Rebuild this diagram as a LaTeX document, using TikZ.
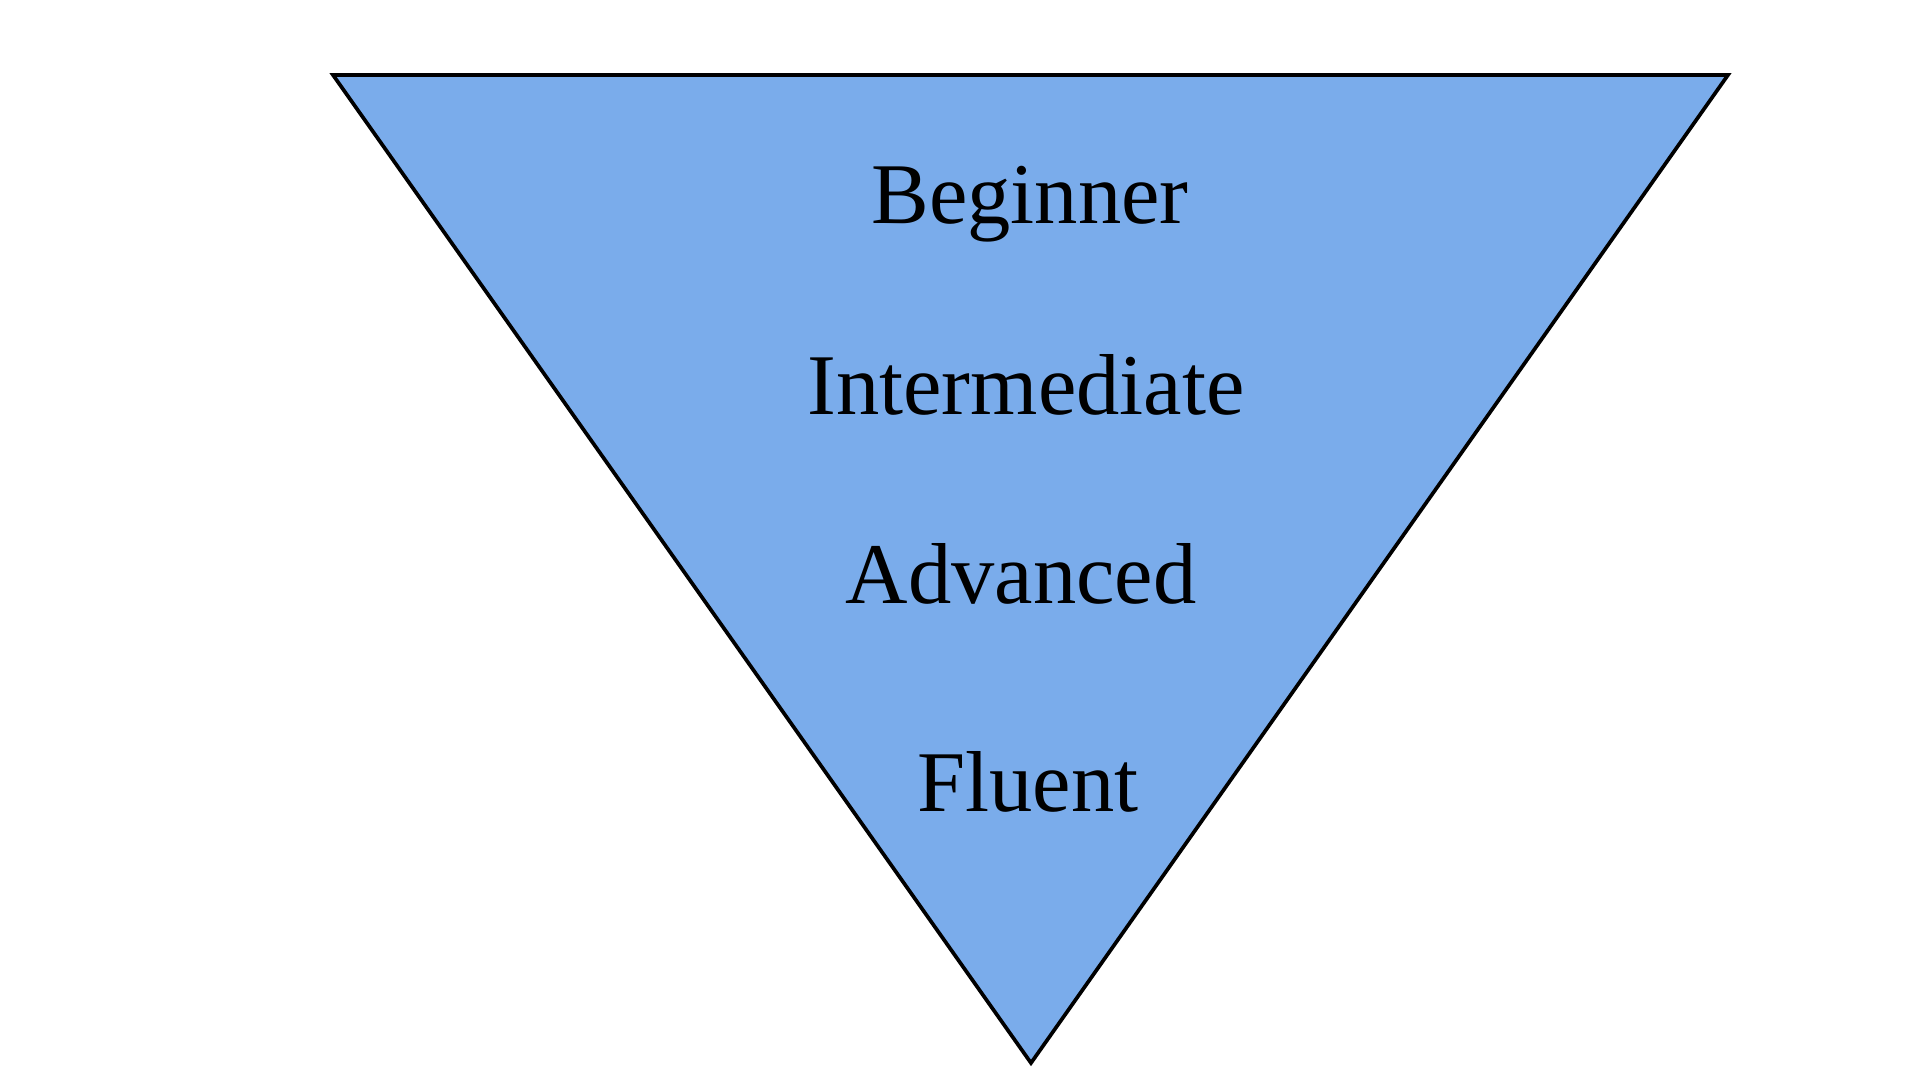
\documentclass[tikz,border=0pt]{standalone}
\usepackage{fontspec}
\setmainfont{Liberation Serif}
\usepackage{xcolor}
\usetikzlibrary{positioning}
\definecolor{levelblue}{RGB}{122,172,235}
\tikzset{
  funnel/.style={draw=black, fill=levelblue, line width=1.05pt, line join=miter},
  lvl/.style={font=\fontsize{24.6}{29}\selectfont, anchor=base, inner sep=0pt, text=black}
}
\begin{document}
\begin{tikzpicture}[x=0.01cm, y=-0.01cm]
  \useasboundingbox (0,0) rectangle (1920,1080);
  \coordinate (tl) at (333,75);
  \coordinate (tr) at (1728,75);
  \coordinate (bt) at (1031,1063);
  \draw[funnel] (tl) -- (tr) -- (bt) -- cycle;
  \node[lvl] (beg) at (1030,224) {Beginner};
  \node[lvl] (mid) at (1026,415) {Intermediate};
  \node[lvl] (adv) at (1021,604) {Advanced};
  \node[lvl] (flu) at (1028,812) {Fluent};
\end{tikzpicture}
\end{document}
